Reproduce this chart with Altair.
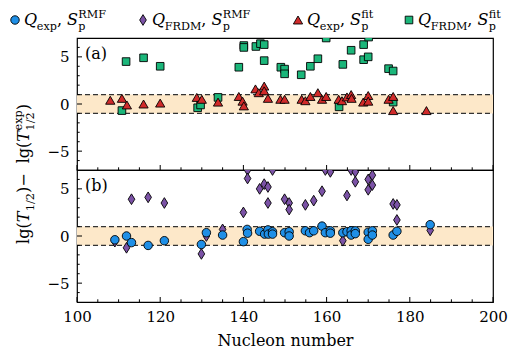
import altair as alt
import pandas as pd

# ---------------- data ----------------
# panel (a): Q_exp, S_p^fit (red triangles)
red_x = [108.0, 110.8, 112.0, 116.0, 120.0, 128.8, 130.0, 133.9, 138.9, 139.8, 140.1,
         142.9, 143.7, 145.0, 145.0, 145.9, 148.9, 149.9, 154.0, 154.9, 156.1, 157.9,
         158.9, 159.9, 162.9, 163.7, 164.9, 165.9, 166.0, 168.8, 170.0, 170.0, 174.9,
         176.0, 176.0, 184.0]
red_y = [0.4, 0.6, -0.1, 0.0, 0.1, 0.7, 0.5, 0.2, 0.8, 0.3, -0.2,
         1.6, 1.2, 1.9, 1.4, 0.6, 0.5, 0.5, 0.5, 0.35, 0.8, 1.2,
         0.5, 0.8, 0.5, 0.35, 0.75, 1.0, 0.6, 0.2, 0.9, 0.3, 0.5,
         0.8, -0.7, -0.7]
# panel (a): Q_FRDM, S_p^fit (green squares)
green_x = [110.8, 111.8, 116.0, 120.0, 129.0, 129.7, 133.9, 138.9, 140.1, 140.1, 143.0,
           144.1, 145.0, 145.0, 149.0, 149.9, 149.9, 153.9, 156.1, 157.9, 159.9, 163.0,
           163.9, 165.9, 168.9, 168.9, 170.0, 170.1, 174.9, 176.0, 176.0]
green_y = [-0.7, 4.5, 4.9, 4.0, -0.4, -0.1, 0.7, 3.9, 6.2, 6.0, 6.1,
           6.4, 6.3, 4.6, 3.9, 3.7, 3.2, 3.1, 4.0, 4.8, 7.0, -0.3,
           4.2, 5.7, 6.3, 4.7, 5.0, 7.1, 3.75, 3.5, 0.2]
# panel (b): Q_exp, S_p^RMF (blue circles)
blue_x = [109.1, 111.9, 113.1, 117.1, 121.0, 129.9, 131.1, 135.0, 140.0, 140.9, 141.0,
          143.9, 145.1, 145.9, 146.0, 147.0, 147.0, 149.9, 151.0, 151.0, 154.9, 155.9,
          156.9, 158.9, 159.7, 160.9, 160.9, 163.9, 164.9, 165.9, 165.9, 166.9, 166.9,
          170.0, 170.0, 171.0, 171.0, 176.0, 176.9, 184.9]
blue_y = [-0.4, 0.0, -0.7, -1.0, -0.5, -0.9, 0.35, 0.1, -0.6, 0.7, 0.3,
          0.5, 0.2, 0.65, 0.2, 0.45, 0.2, 0.35, 0.45, 0.0, 0.55, 0.35,
          0.55, 1.05, 0.35, 0.55, 0.3, 0.35, 0.45, 0.55, 0.1, 0.55, 0.25,
          0.4, -0.35, 0.55, 0.1, 0.1, 0.5, 1.2]
# panel (b): Q_FRDM, S_p^RMF (purple diamonds)
purple_x = [109.1, 111.9, 113.1, 117.1, 121.0, 129.9, 131.1, 135.0, 140.0, 141.0, 141.0,
            143.9, 145.0, 145.9, 147.0, 145.9, 149.9, 151.0, 151.0, 154.9, 156.9, 158.9,
            159.7, 160.9, 163.9, 164.9, 165.9, 166.9, 166.9, 170.0, 171.0, 171.0, 170.0,
            176.0, 176.9, 176.9, 184.9]
purple_y = [-0.6, -1.25, 3.9, 4.1, 3.5, -1.9, 0.0, 0.7, 2.5, 7.0, 6.1,
            5.0, 5.5, 5.2, 7.0, 3.5, 3.9, 3.5, 2.8, 3.3, 3.75, 4.75,
            7.0, 6.8, -0.5, 4.3, 7.0, 6.8, 5.75, 6.0, 6.45, 5.4, 4.9,
            3.4, 3.3, 1.7, 0.6]

x_major = [100, 120, 140, 160, 180, 200]
x_minor = [105, 110, 115, 125, 130, 135, 145, 150, 155, 165, 170, 175, 185, 190, 195]
y_major = [-5, 0, 5]
y_minor = [-6, -4, -3, -2, -1, 1, 2, 3, 4, 6]
band_lo = [-1]
band_hi = [1]
dash_levels = [-1, 1]

# ---------------- style / layout ----------------
W, H = 416, 132
FONT = "DejaVu Serif"
C_BLUE, C_PURPLE, C_RED, C_GREEN = "#1f8fe6", "#7b52a6", "#d02a2a", "#1bb67a"
BAND = "#fde8c9"
DIAMOND = "M0,-1L0.62,0L0,1L-0.62,0Z"
S_CIRC, S_DIAM, S_TRI, S_SQ = 72, 115, 85, 58

xs = alt.Scale(domain=[100, 200], nice=False, zero=False)
ys = alt.Scale(domain=[-7, 7], nice=False, zero=False)

ax_y = alt.Axis(values=y_major, ticks=False, domain=False, grid=False, labelFont=FONT,
                labelFontSize=15, labelPadding=8, labelColor="black", labelFlush=False,
                title=None)
ax_x_bot = alt.Axis(values=x_major, ticks=False, domain=False, grid=False, labelFont=FONT,
                    labelFontSize=15, labelPadding=7, labelColor="black", labelFlush=False,
                    format="d", title="Nucleon number", titleFont=FONT, titleFontSize=16,
                    titleFontWeight="normal", titleColor="black", titlePadding=8)

# widths (em) for DejaVu Serif, used only to lay out mixed-size label text
WID = {" ": 0.318, ",": 0.318, "(": 0.390, ")": 0.390, "/": 0.337, "−": 0.838,
       "e": 0.592, "g": 0.640, "l": 0.320, "p": 0.640, "x": 0.564, "f": 0.371,
       "i": 0.320, "t": 0.402, "D": 0.830, "F": 0.715, "M": 0.947, "R": 0.770}
WID_IT = {"Q": 0.80, "S": 0.70, "T": 0.70}
SUP, SUB = -0.46, 0.30


def tw(text, size, italic=False):
    tab = WID_IT if italic else WID
    return sum(tab.get(c, WID.get(c, 0.636)) for c in text) * size


def layout(tokens, main, script):
    out, pos = [], 0.0
    for tok in tokens:
        if tok[0] == "stack":
            _, sup, sub = tok
            out.append((sup, pos, SUP * main, script, False))
            out.append((sub, pos, SUB * main, script, False))
            pos += max(tw(sup, script), tw(sub, script))
        else:
            text, kind = tok
            size = main if kind in ("rm", "it") else script
            dy = {"rm": 0, "it": 0, "sub": SUB * main, "sup": SUP * main}[kind]
            out.append((text, pos, dy, size, kind == "it"))
            pos += tw(text, size, kind == "it")
    return out, pos


ONE = alt.Data(values=[{"a": 0}])


def text_segments(tokens, ax, ay, main, script, angle=0):
    segs, _ = layout(tokens, main, script)
    layers = []
    for text, pos, dy, size, italic in segs:
        kw = dict(text=text, font=FONT, fontSize=size, align="left", baseline="alphabetic",
                  dx=pos, dy=dy, color="black",
                  fontStyle="italic" if italic else "normal")
        if angle:
            kw["angle"] = angle
        layers.append(alt.Chart(ONE).mark_text(**kw).encode(x=alt.value(ax), y=alt.value(ay)))
    return layers


def points(xv, yv, color, shape, size, xaxis):
    df = pd.DataFrame({"x": xv, "y": yv})
    return alt.Chart(df).mark_point(shape=shape, filled=True, fill=color, stroke="black",
                                    strokeWidth=0.9, size=size, opacity=1, clip=True).encode(
        x=alt.X("x:Q", scale=xs, axis=xaxis), y=alt.Y("y:Q", scale=ys, axis=ax_y))


def common(xaxis):
    band = alt.Chart(pd.DataFrame({"lo": band_lo, "hi": band_hi})).mark_rect(color=BAND).encode(
        x=alt.value(0), x2=alt.value(W), y=alt.Y("lo:Q", scale=ys, axis=ax_y), y2="hi:Q")
    dash = alt.Chart(pd.DataFrame({"v": dash_levels})).mark_rule(
        color="#333333", strokeWidth=1.3, strokeDash=[5, 3]).encode(
        y=alt.Y("v:Q", scale=ys, axis=ax_y), x=alt.value(0), x2=alt.value(W))
    tk = []
    for vals, ln in ((y_major, 5), (y_minor, 2.7)):
        tk.append(alt.Chart(pd.DataFrame({"v": vals})).mark_rule(color="black", strokeWidth=1).encode(
            y=alt.Y("v:Q", scale=ys, axis=ax_y), x=alt.value(0), x2=alt.value(ln)))
    for vals, ln in ((x_major, 5), (x_minor, 2.7)):
        tk.append(alt.Chart(pd.DataFrame({"v": vals})).mark_rule(color="black", strokeWidth=1).encode(
            x=alt.X("v:Q", scale=xs, axis=xaxis), y=alt.value(H), y2=alt.value(H - ln)))
    return [band, dash] + tk


def panel_label(txt):
    return alt.Chart(ONE).mark_text(text=txt, font=FONT, fontSize=16, align="left",
                                    baseline="alphabetic", color="black").encode(
        x=alt.value(8), y=alt.value(21))


# ---------------- legend (above panel a) ----------------
MAIN, SCR = 16, 11.2
LEG_BASE = -13
LEG_SYM = -18
entries = [
    (-62, C_BLUE, "circle", S_CIRC, [("Q", "it"), ("exp", "sub"), (",", "rm"), (" ", "rm"), ("S", "it"), ("stack", "RMF", "p")]),
    (66, C_PURPLE, DIAMOND, S_DIAM, [("Q", "it"), ("FRDM", "sub"), (",", "rm"), (" ", "rm"), ("S", "it"), ("stack", "RMF", "p")]),
    (221, C_RED, "triangle-up", S_TRI, [("Q", "it"), ("exp", "sub"), (",", "rm"), (" ", "rm"), ("S", "it"), ("stack", "fit", "p")]),
    (332, C_GREEN, "square", S_SQ, [("Q", "it"), ("FRDM", "sub"), (",", "rm"), (" ", "rm"), ("S", "it"), ("stack", "fit", "p")]),
]
legend_layers = []
for sx, col, shp, sz, toks in entries:
    legend_layers.append(alt.Chart(ONE).mark_point(shape=shp, filled=True, fill=col, stroke="black",
                                                   strokeWidth=0.9, size=sz, opacity=1).encode(
        x=alt.value(sx), y=alt.value(LEG_SYM)))
    legend_layers += text_segments(toks, sx + 9, LEG_BASE, MAIN, SCR)

# ---------------- y title (rotated, spanning both panels) ----------------
yt_tokens = [("lg(", "rm"), ("T", "it"), ("1/2", "sub"), (")", "rm"), (" − ", "rm"), ("lg(", "rm"),
             ("T", "it"), ("stack", "exp", "1/2"), (")", "rm")]
_, yt_len = layout(yt_tokens, 16, 11.2)
ytitle = text_segments(yt_tokens, -48, 4 + yt_len / 2, 16, 11.2, angle=270)

# ---------------- panels ----------------
top = alt.layer(
    *common(None),
    points(green_x, green_y, C_GREEN, "square", S_SQ, None),
    points(red_x, red_y, C_RED, "triangle-up", S_TRI, None),
    panel_label("(a)"),
    *legend_layers,
).properties(width=W, height=H)

bottom = alt.layer(
    *common(ax_x_bot),
    points(purple_x, purple_y, C_PURPLE, DIAMOND, S_DIAM, ax_x_bot),
    points(blue_x, blue_y, C_BLUE, "circle", S_CIRC, ax_x_bot),
    panel_label("(b)"),
    *ytitle,
).properties(width=W, height=H)

chart = alt.vconcat(top, bottom, spacing=0, bounds="flush").properties(
    padding=0
).configure_view(stroke="black", strokeWidth=1.2)

chart.save("out.html", embed_options={"renderer": "svg", "actions": False})
